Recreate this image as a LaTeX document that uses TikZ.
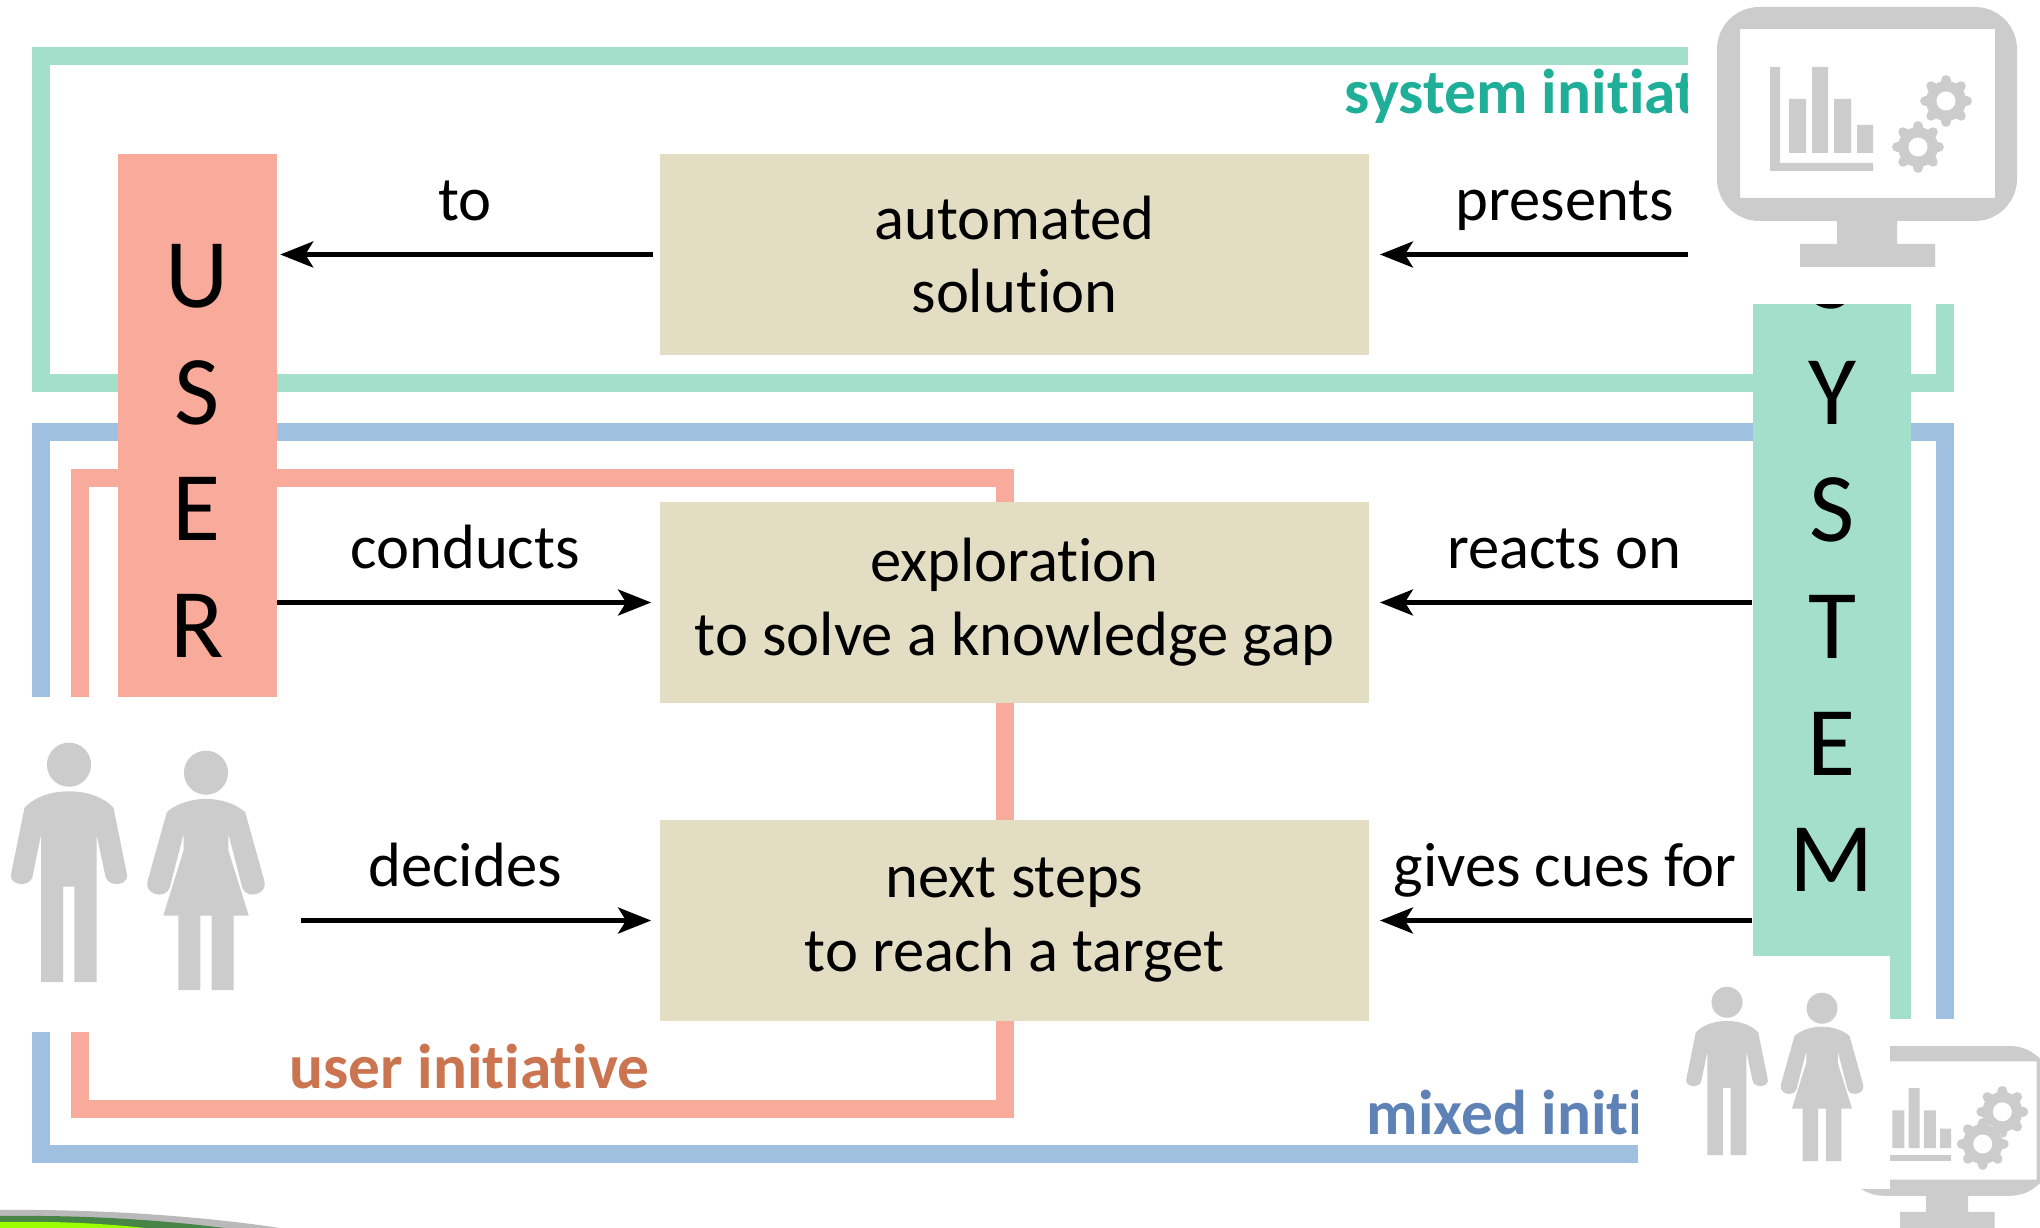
\documentclass[tikz,border=0pt]{standalone}
\usepackage{fontspec}
\setmainfont{Carlito}[Ligatures=NoCommon]
\usetikzlibrary{arrows.meta,positioning}
\definecolor{mintline}{HTML}{A3DFCA}
\definecolor{skyline}{HTML}{A0C0E0}
\definecolor{salmonline}{HTML}{F9AB9B}
\definecolor{tanbox}{HTML}{E3DDC4}
\definecolor{icongray}{HTML}{CCCCCC}
\definecolor{systemtext}{HTML}{1FAE97}
\definecolor{usertext}{HTML}{CB7550}
\definecolor{mixedtext}{HTML}{5F82B6}
\tikzset{
    frameline/.style={line width=0.18cm},
    tanblock/.style={fill=tanbox, minimum width=7.09cm, minimum height=2cm, align=center, font=\fontsize{17.8}{21}\selectfont},
    sidebar/.style={minimum width=1.58cm, inner sep=0pt},
    sideletters/.style={align=center, inner sep=0pt, font=\fontsize{28}{33.2}\selectfont},
    flow/.style={line width=0.045cm, >={Stealth[length=0.33cm,width=0.26cm,inset=0.08cm]}},
    flowlabel/.style={font=\fontsize{17.8}{21}\selectfont, inner sep=0pt, text depth=0pt, above=0.32cm},
    modelabel/.style={font=\fontsize{18}{22}\selectfont\bfseries, inner sep=0pt},
    gearicon/.pic={
        \fill[icongray] (0,0) circle (20);
        \foreach \a in {0,45,...,315}
            \fill[icongray, rotate=\a, rounded corners=1.5] (-5,0) rectangle (5,-26);
        \fill[white] (0,0) circle (9.5);
    },
    monitoricon/.pic={
        % coordinates measured from the top centre of the screen
        \fill[icongray, even odd rule] [rounded corners=12] (-150,0) rectangle (150,214) [sharp corners] (-127,22) rectangle (128,191);
        \fill[icongray] (-30,214) rectangle (30,237) (-67,237) rectangle (68,260);
        \fill[icongray] (-97,60) rectangle (-87,164) (-97,156) rectangle (6,164);
        \fill[icongray] (-78,92) rectangle (-61,146) (-55,60) rectangle (-39,146) (-33,92) rectangle (-16,146) (-10,118) rectangle (6,146);
        \pic at (79,94) {gearicon};
        \fill[white] (51,140) circle (29);
        \pic at (51,140) {gearicon};
    },
    manicon/.pic={
        \fill[icongray] (0,62) circle (63);
        \fill[icongray] (0,138) .. controls (-60,138) and (-105,160) .. (-127,185) -- (-165,372) .. controls (-175,405) and (-118,415) .. (-105,385) -- (-80,263) -- (-80,683) -- (-17,683) -- (-17,410) -- (15,410) -- (15,683) -- (79,683) -- (79,263) -- (105,385) .. controls (118,415) and (175,405) .. (165,372) -- (127,185) .. controls (105,160) and (60,138) .. (0,138) -- cycle;
    },
    womanicon/.pic={
        \fill[icongray] (0,62) circle (63);
        \fill[icongray] (0,137) .. controls (-50,137) and (-90,155) .. (-112,175) -- (-167,372) .. controls (-177,410) and (-117,425) .. (-104,392) -- (-64,237) -- (-64,284) -- (-122,470) -- (-79,470) -- (-79,683) -- (-16,683) -- (-16,470) -- (16,470) -- (16,683) -- (79,683) -- (79,470) -- (122,470) -- (64,284) -- (64,237) -- (104,392) .. controls (117,425) and (177,410) .. (167,372) -- (112,175) .. controls (90,155) and (50,137) .. (0,137) -- cycle;
    },
}
\begin{document}
\begin{tikzpicture}[x=0.01cm, y=-0.01cm]
    \useasboundingbox (0,0) rectangle (2040,1228);

    % swoosh at the lower edge
    \fill[gray!55] (0,1228) -- (0,1210) .. controls (100,1209) and (200,1216) .. (280,1228) -- cycle;
    \fill[green!30!gray!80!black] (0,1228) -- (0,1216) .. controls (90,1215) and (160,1220) .. (225,1228) -- cycle;
    \fill[lime!80!green] (0,1228) -- (0,1222) .. controls (50,1221) and (100,1223) .. (145,1228) -- cycle;

    % frames
    \draw[frameline, mintline] (41,56) rectangle (1945,383);
    \draw[frameline, skyline] (41,432) rectangle (1945,1154);
    \draw[frameline, salmonline] (80,478) rectangle (1005,1109);

    % mode names
    \node[modelabel, text=systemtext, anchor=west] (systemmode) at (1344,96) {system initiative};
    \node[modelabel, text=usertext, anchor=west] (usermode) at (289,1067) {user initiative};
    \node[modelabel, text=mixedtext, anchor=west] (mixedmode) at (1366,1113) {mixed initiative};

    % sidebars
    \node[sidebar, fill=salmonline, minimum height=5.43cm] (user) at (197.5,425.5) {};
    \node[sidebar, fill=mintline, minimum height=8.65cm] (system) at (1832,586.5) {};
    \node[sideletters] (userletters) at (197,451) {U\\S\\E\\R};
    \node[sideletters] (systemletters) at (1832,568) {S\\Y\\S\\T\\E\\M};

    % blocks
    \node[tanblock] (solution) at (1014.5,254.5) {automated\\solution};
    \node[tanblock] (exploration) at (1014.5,602.5) {exploration\\to solve a knowledge gap};
    \node[tanblock] (nextsteps) at (1014.5,920.5) {next steps\\to reach a target};

    % arrows
    \draw[flow, ->, shorten <=0.06cm, shorten >=0.03cm] (solution.west) -- (user.east |- solution.west) node[flowlabel, midway, xshift=-0.03cm] (tolabel) {to};
    \draw[flow, ->, shorten >=0.1cm] (system.west |- solution.east) -- (solution.east) node[flowlabel, midway, xshift=0.04cm] (presentslabel) {presents};
    \draw[flow, ->, shorten >=0.08cm] (user.east |- exploration.west) -- (exploration.west) node[flowlabel, midway, xshift=-0.03cm] (conductslabel) {conducts};
    \draw[flow, ->, shorten >=0.1cm] (system.west |- exploration.east) -- (exploration.east) node[flowlabel, midway, xshift=0.03cm] (reactslabel) {reacts on};
    \draw[flow, ->, shorten >=0.08cm] (user.east |- nextsteps.west) -- (nextsteps.west) node[flowlabel, midway, xshift=-0.03cm] (decideslabel) {decides};
    \draw[flow, ->, shorten >=0.1cm] (system.west |- nextsteps.east) -- (nextsteps.east) node[flowlabel, midway, xshift=0.04cm] (cueslabel) {gives cues for};

    % pasted icons with their white backgrounds
    \fill[white] (1688,0) rectangle (2040,304);
    \fill[white] (0,697) rectangle (301,1032);
    \fill[white] (1890,1019) rectangle (2040,1228);
    \pic at (1867,7) {monitoricon};
    \pic[scale=0.7] at (1947,1046) {monitoricon};
    \fill[white] (1638,956) rectangle (1890,1189);
    \pic[scale=0.35] at (69,743) {manicon};
    \pic[scale=0.35] at (206,751) {womanicon};
    \pic[scale=0.246] at (1727,987) {manicon};
    \pic[scale=0.246] at (1822,993) {womanicon};
\end{tikzpicture}
\end{document}
